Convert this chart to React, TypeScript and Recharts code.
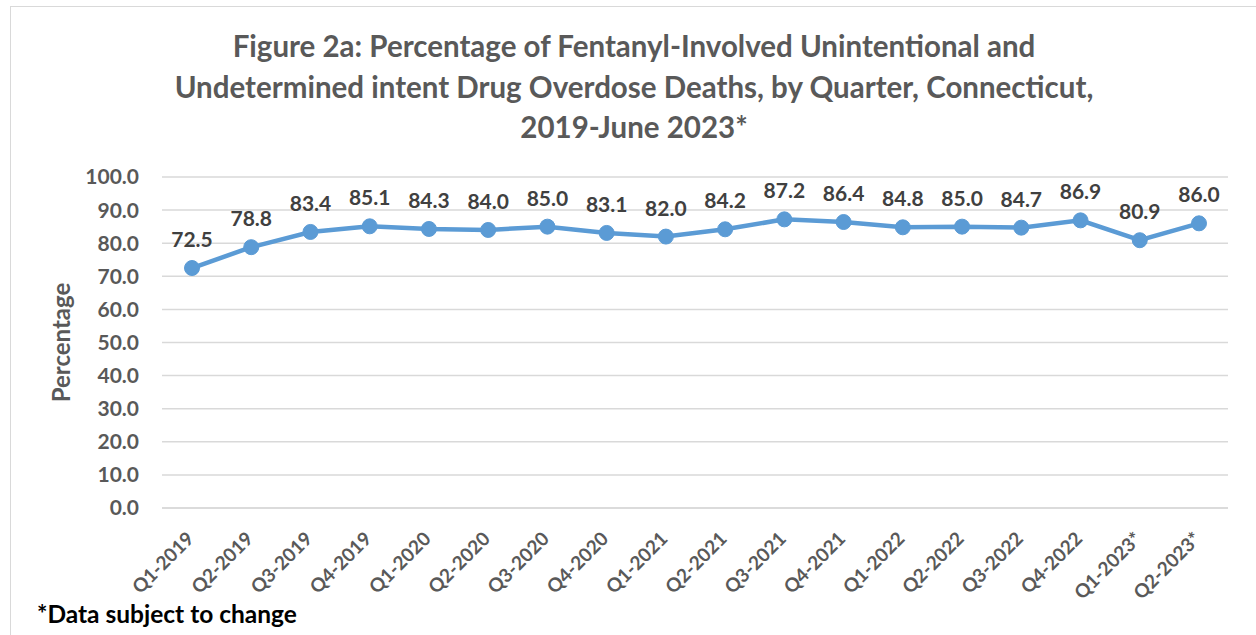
import React from 'react';
import { LineChart, Line, XAxis, YAxis, CartesianGrid, LabelList } from 'recharts';

const quarters = ['Q1-2019','Q2-2019','Q3-2019','Q4-2019','Q1-2020','Q2-2020','Q3-2020','Q4-2020','Q1-2021','Q2-2021','Q3-2021','Q4-2021','Q1-2022','Q2-2022','Q3-2022','Q4-2022','Q1-2023*','Q2-2023*'];
const percentages = [72.5,78.8,83.4,85.1,84.3,84.0,85.0,83.1,82.0,84.2,87.2,86.4,84.8,85.0,84.7,86.9,80.9,86.0];
const yTicks = [0,10,20,30,40,50,60,70,80,90,100];
const titleLines = [
  'Figure 2a: Percentage of Fentanyl-Involved Unintentional and',
  'Undetermined intent Drug Overdose Deaths, by Quarter, Connecticut,',
  '2019-June 2023*',
];

const data = quarters.map((q, i) => ({ q, v: percentages[i] }));
const FONT = 'Lato, "Open Sans", sans-serif';

const XTick = (props: any) => {
  const { x, y, payload } = props;
  const ax = x + 3;
  const ay = y + 24;
  return (
    <text x={ax} y={ay} transform={`rotate(-45, ${ax}, ${ay})`} textAnchor="end" fontFamily={FONT} fontWeight={700} fontSize={19} fill="#595959">
      {payload.value}
    </text>
  );
};

export default function App() {
  return (
    <div style={{ position: 'absolute', left: 0, top: 0, width: 1256, height: 635, overflow: 'hidden', background: '#fff', fontFamily: FONT }}>
      <div style={{ position: 'absolute', left: 10, top: 6, width: 1300, height: 700, border: '1.5px solid #d9d9d9', boxSizing: 'border-box' }} />
      <div style={{ position: 'absolute', left: 0, top: 26, width: 1268, textAlign: 'center', color: '#595959', fontWeight: 700, fontSize: 29.5, lineHeight: '40.5px' }}>
        {titleLines.map((t, i) => <div key={i}>{t}</div>)}
      </div>
      <div style={{ position: 'absolute', left: 0, top: 0 }}>
        <LineChart width={1256} height={635} data={data} margin={{ top: 177, right: 28, left: 0, bottom: 0 }}>
          <CartesianGrid vertical={false} stroke="#d9d9d9" strokeWidth={1.5} />
          <XAxis dataKey="q" interval={0} height={127} padding={{ left: 30, right: 29 }} tick={<XTick />} tickLine={false} axisLine={{ stroke: '#d9d9d9', strokeWidth: 1.5 }} />
          <YAxis domain={[0, 100]} ticks={yTicks} width={162} tickFormatter={(v: number) => v.toFixed(1)} tickLine={false} axisLine={false} tickMargin={17}
            tick={{ fontFamily: FONT, fontWeight: 700, fontSize: 21, fill: '#595959' }}
            label={{ value: 'Percentage', angle: -90, position: 'insideLeft', dx: 56, style: { fontFamily: FONT, fontWeight: 700, fontSize: 24, fill: '#595959', textAnchor: 'middle' } }} />
          <Line type="linear" dataKey="v" stroke="#5B9BD5" strokeWidth={4.5} dot={{ r: 7.5, fill: '#5B9BD5', stroke: '#5B9BD5', strokeWidth: 1 }} isAnimationActive={false}>
            <LabelList dataKey="v" position="top" offset={21} formatter={(v: number) => v.toFixed(1)} style={{ fontFamily: FONT, fontWeight: 700, fontSize: 21, fill: '#404040' }} />
          </Line>
        </LineChart>
      </div>
      <div style={{ position: 'absolute', left: 37, top: 599, color: '#000', fontWeight: 700, fontSize: 24.5 }}>*Data subject to change</div>
    </div>
  );
}
